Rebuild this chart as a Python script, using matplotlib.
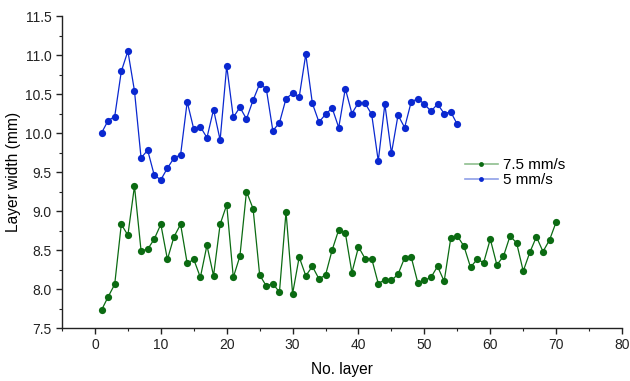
import matplotlib
matplotlib.use("Agg")
import matplotlib.pyplot as plt
from matplotlib.lines import Line2D
from matplotlib.ticker import MultipleLocator

plt.rcParams['font.family'] = ['Liberation Sans', 'DejaVu Sans']

layers_5 = list(range(1, 56))
width_5 = [10.0, 10.16, 10.21, 10.79, 11.05, 10.54, 9.68, 9.78, 9.46, 9.40,
           9.55, 9.68, 9.72, 10.40, 10.05, 10.08, 9.94, 10.30, 9.91, 10.86,
           10.20, 10.33, 10.18, 10.42, 10.63, 10.57, 10.03, 10.13, 10.44, 10.51,
           10.46, 11.01, 10.38, 10.14, 10.24, 10.32, 10.07, 10.57, 10.25, 10.39,
           10.38, 10.24, 9.64, 10.37, 9.74, 10.23, 10.07, 10.40, 10.44, 10.37,
           10.28, 10.37, 10.25, 10.27, 10.11]

layers_75 = list(range(1, 71))
width_75 = [7.73, 7.90, 8.06, 8.83, 8.69, 9.32, 8.49, 8.51, 8.64, 8.83,
            8.38, 8.67, 8.83, 8.33, 8.38, 8.15, 8.56, 8.17, 8.83, 9.08,
            8.15, 8.42, 9.25, 9.03, 8.18, 8.04, 8.07, 7.96, 8.99, 7.94,
            8.41, 8.17, 8.29, 8.13, 8.18, 8.50, 8.76, 8.72, 8.21, 8.54,
            8.39, 8.39, 8.07, 8.12, 8.11, 8.19, 8.40, 8.41, 8.08, 8.11,
            8.15, 8.29, 8.10, 8.65, 8.68, 8.55, 8.28, 8.38, 8.34, 8.64,
            8.31, 8.42, 8.68, 8.59, 8.23, 8.47, 8.67, 8.48, 8.63, 8.86]

labels = ["7.5 mm/s", "5 mm/s"]
green = "#0b6b12"
blue = "#0a28d0"

fig = plt.figure(figsize=(6.3, 3.81), dpi=100)
ax = fig.add_axes([0.0984, 0.139, 0.889, 0.819])

ax.plot(layers_75, width_75, color=green, lw=0.9, marker='o', ms=5.2,
        markeredgewidth=0)
ax.plot(layers_5, width_5, color=blue, lw=0.9, marker='o', ms=5.2,
        markeredgewidth=0)

ax.set_xlim(-5, 80)
ax.set_ylim(7.5, 11.5)
ax.xaxis.set_major_locator(MultipleLocator(10))
ax.xaxis.set_minor_locator(MultipleLocator(5))
ax.yaxis.set_major_locator(MultipleLocator(0.5))
ax.yaxis.set_minor_locator(MultipleLocator(0.25))
ax.yaxis.set_major_formatter(matplotlib.ticker.FormatStrFormatter('%.1f'))
for s in ['top', 'right']:
    ax.spines[s].set_visible(False)
for s in ['left', 'bottom']:
    ax.spines[s].set_linewidth(1.0)
    ax.spines[s].set_color('#222222')
ax.tick_params(which='major', direction='out', length=4, width=1,
               labelsize=10, colors='#222222')
ax.tick_params(which='minor', direction='out', length=2.5, width=0.8,
               colors='#222222')
ax.set_xlabel("No. layer", fontsize=11.2, labelpad=7)
ax.set_ylabel("Layer width (mm)", fontsize=11.2, labelpad=3)

handles = [
    Line2D([], [], color="#8fbf8f", lw=1.2, marker='o', ms=3.5,
           markerfacecolor=green, markeredgewidth=0),
    Line2D([], [], color="#8f9fe8", lw=1.2, marker='o', ms=3.5,
           markerfacecolor=blue, markeredgewidth=0),
]
ax.legend(handles, labels, loc='upper left', bbox_to_anchor=(0.708, 0.565),
          frameon=False, fontsize=11, handlelength=2.2, handletextpad=0.3,
          labelspacing=0.1, borderaxespad=0)

fig.savefig("out.png", dpi=100)
